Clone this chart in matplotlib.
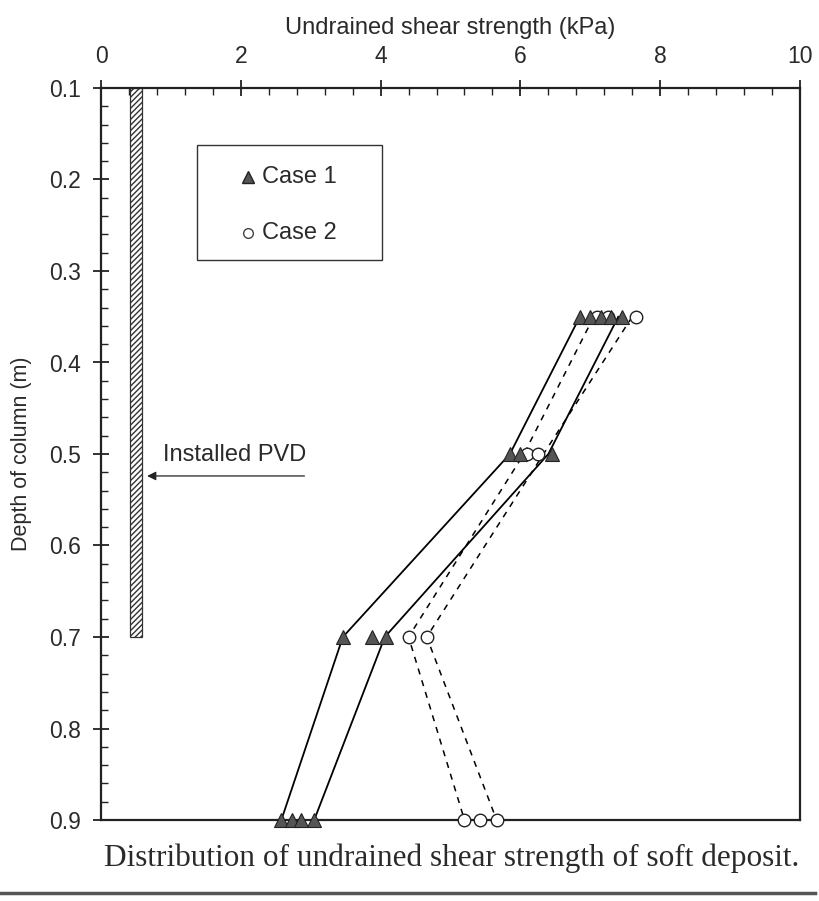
import matplotlib
matplotlib.use("Agg")
import matplotlib.pyplot as plt
from matplotlib.patches import Rectangle
from matplotlib.ticker import MultipleLocator
import numpy as np

plt.rcParams['font.family'] = ['Liberation Sans', 'DejaVu Sans']

# Depths (m)
depths = [0.35, 0.5, 0.7, 0.9]

# Case 1 measured points (triangles), per depth
case1_points = {
    0.35: [6.85, 7.0, 7.15, 7.3, 7.45],
    0.5: [5.85, 6.0, 6.45],
    0.7: [3.46, 3.88, 4.08],
    0.9: [2.58, 2.73, 2.86, 3.05],
}
# Case 1 envelope lines (solid)
case1_lower = [6.85, 5.85, 3.46, 2.58]
case1_upper = [7.4, 6.4, 4.06, 3.05]

# Case 2 measured points (circles), per depth
case2_points = {
    0.35: [7.1, 7.25, 7.65],
    0.5: [6.1, 6.25],
    0.7: [4.4, 4.66],
    0.9: [5.2, 5.42, 5.66],
}
# Case 2 envelope lines (dashed)
case2_lower = [7.05, 6.05, 4.4, 5.2]
case2_upper = [7.6, 6.33, 4.66, 5.66]

TXT = '#2a2a2a'

fig = plt.figure(figsize=(8.19, 9.01), dpi=100)
ax = fig.add_axes([101/819, 1-820/901, (800-101)/819, (820-88)/901])

ax.set_xlim(0, 10)
ax.set_ylim(0.9, 0.1)

# PVD hatched bar
ax.add_patch(Rectangle((0.42, 0.1), 0.17, 0.6, facecolor='white', edgecolor='#333333',
                       hatch='//////', linewidth=0.9, zorder=2))

# Lines
ax.plot(case1_lower, depths, color='black', lw=1.3, zorder=3)
ax.plot(case1_upper, depths, color='black', lw=1.3, zorder=3)
ax.plot(case2_lower, depths, color='black', lw=1.1, ls=(0, (4, 4)), zorder=3)
ax.plot(case2_upper, depths, color='black', lw=1.1, ls=(0, (4, 4)), zorder=3)

# Markers
for d, vals in case2_points.items():
    ax.plot(vals, [d]*len(vals), ls='none', marker='o', ms=9, mfc='white',
            mec='#222222', mew=1.0, zorder=4, clip_on=False)
for d, vals in case1_points.items():
    ax.plot(vals, [d]*len(vals), ls='none', marker='^', ms=9.5, mfc='#555555',
            mec='#222222', mew=0.8, zorder=5, clip_on=False)

# Legend box
ax.add_patch(Rectangle((1.37, 0.162), 2.65, 0.126, facecolor='white', edgecolor='#333333',
                       lw=1.0, zorder=6))
ax.plot([2.1], [0.197], ls='none', marker='^', ms=8, mfc='#555555', mec='#222222', zorder=7)
ax.text(2.3, 0.197, 'Case 1', fontsize=17, va='center', ha='left', color=TXT, zorder=7)
ax.plot([2.1], [0.259], ls='none', marker='o', ms=7, mfc='white', mec='#444444', zorder=7)
ax.text(2.3, 0.259, 'Case 2', fontsize=17, va='center', ha='left', color=TXT, zorder=7)

# PVD annotation
ax.annotate('', xy=(0.62, 0.524), xytext=(2.95, 0.524),
            arrowprops=dict(arrowstyle='-|>', color='#222222', lw=0.9, mutation_scale=13))
ax.text(0.88, 0.501, 'Installed PVD', fontsize=17, va='center', ha='left', color=TXT)

# Axes styling
ax.xaxis.set_label_position('top')
ax.xaxis.tick_top()
ax.set_xticks([0, 2, 4, 6, 8, 10])
ax.xaxis.set_minor_locator(MultipleLocator(0.4))
ax.set_yticks([0.1, 0.2, 0.3, 0.4, 0.5, 0.6, 0.7, 0.8, 0.9])
ax.set_yticklabels(['0.1', '0.2', '0.3', '0.4', '0.5', '0.6', '0.7', '0.8', '0.9'])
ax.yaxis.set_minor_locator(MultipleLocator(0.02))
ax.tick_params(axis='both', which='major', direction='inout', length=11, width=1.3,
               labelsize=16.5, colors='#222222', labelcolor=TXT)
ax.tick_params(axis='x', which='major', pad=9)
ax.tick_params(axis='y', which='major', pad=9)
ax.tick_params(axis='both', which='minor', direction='in', length=5, width=1.0, colors='#222222')
ax.tick_params(axis='x', which='both', top=True, bottom=False)
ax.tick_params(axis='y', which='both', left=True, right=False)
for s in ax.spines.values():
    s.set_linewidth(1.6)
    s.set_color('#222222')

ax.set_xlabel('Undrained shear strength (kPa)', fontsize=17, labelpad=8, color=TXT)
ax.set_ylabel('Depth of column (m)', fontsize=15.5, labelpad=12, color=TXT)

fig.text(452/819, 1-858/901, 'Distribution of undrained shear strength of soft deposit.',
         family=['Liberation Serif', 'DejaVu Serif'], fontsize=22.5, ha='center', va='center',
         color=TXT)
fig.add_artist(plt.Line2D([0.0, 0.995], [1-893/901, 1-893/901], color='#555555', lw=2.5))

fig.savefig('out.png', dpi=100)
